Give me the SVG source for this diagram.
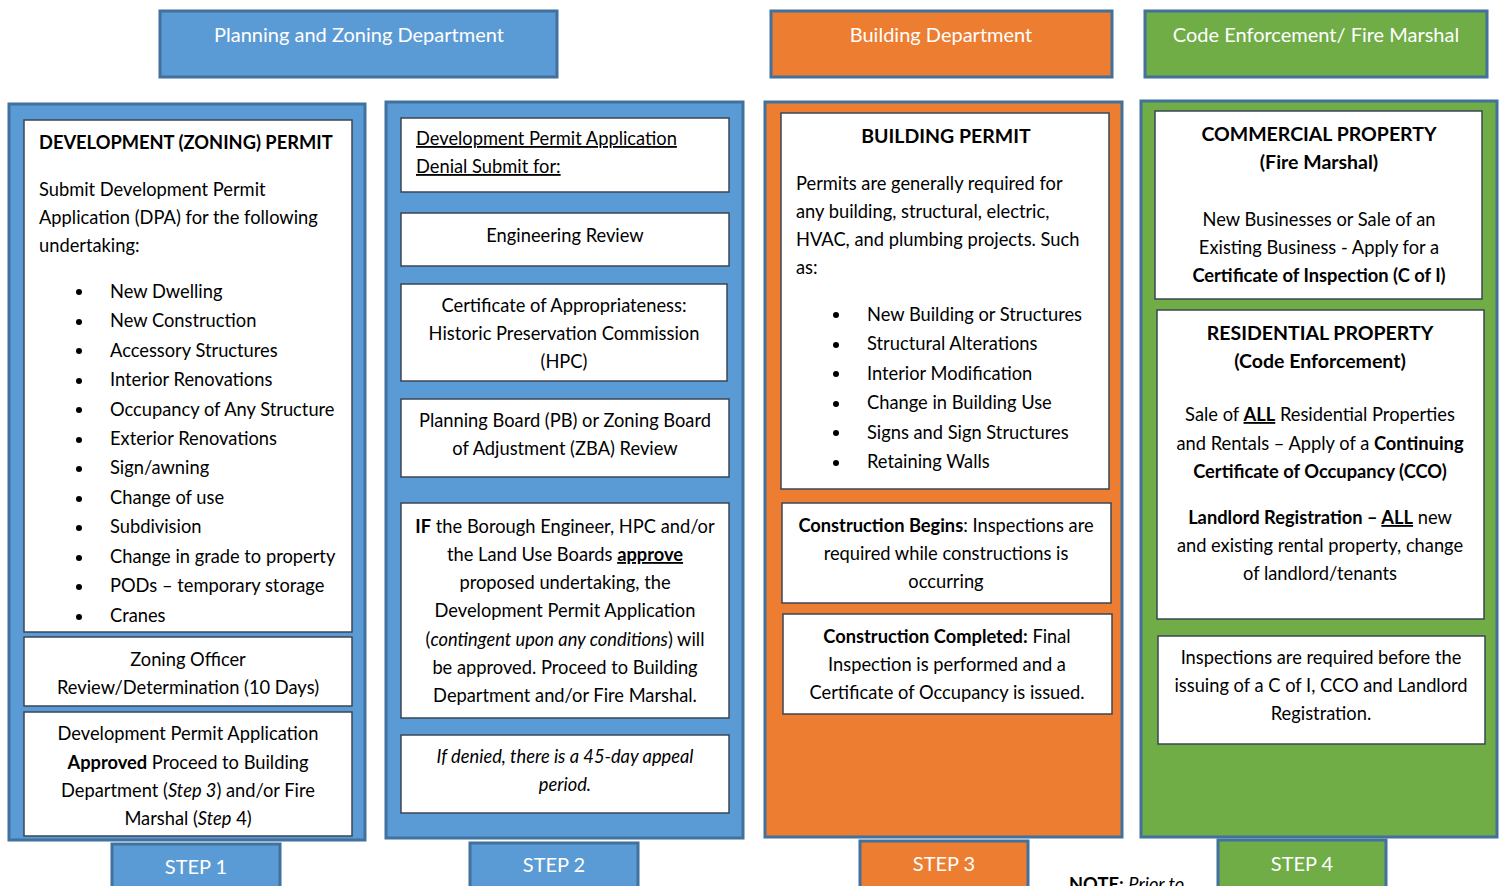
<svg xmlns="http://www.w3.org/2000/svg" width="1502" height="886" viewBox="0 0 1502 886">
<style>
text{font-family:Lato,"Open Sans","Liberation Sans",sans-serif;font-size:18.3px;fill:#000}
.c{text-anchor:middle}
.b{font-weight:bold}
.i{font-style:italic}
.u{text-decoration:underline}
.hd{fill:#fff;font-size:20px;text-anchor:middle}
.blue{fill:#5B9BD5;stroke:#41719C;stroke-width:3}
.orange{fill:#ED7D31;stroke:#41719C;stroke-width:3}
.green{fill:#70AD47;stroke:#41719C;stroke-width:3}
.box{fill:#fff;stroke:#3B4654;stroke-width:1.5}
.dot{fill:#000}
</style>
<rect width="1502" height="886" fill="#fff"/>

<g id="header-planning"><rect class="blue" x="160" y="11" width="397" height="66"/><text class="hd" x="359" y="42">Planning and Zoning Department</text></g>
<g id="header-building"><rect class="orange" x="771" y="11" width="341" height="66"/><text class="hd" x="941" y="42">Building Department</text></g>
<g id="header-code"><rect class="green" x="1145" y="11" width="342" height="66"/><text class="hd" x="1316" y="42">Code Enforcement/ Fire Marshal</text></g>

<g id="panel-1">
<rect class="blue" x="9" y="104" width="356" height="736"/>
<g id="p1-permit">
<rect class="box" x="24" y="120" width="328" height="512"/>
<text class="b" x="39" y="149">DEVELOPMENT (ZONING) PERMIT</text>
<text x="39" y="196">Submit Development Permit</text>
<text x="39" y="224">Application (DPA) for the following</text>
<text x="39" y="252">undertaking:</text>
<g class="dot"><circle cx="79" cy="292" r="3"/><circle cx="79" cy="322" r="3"/><circle cx="79" cy="351" r="3"/><circle cx="79" cy="381" r="3"/><circle cx="79" cy="410" r="3"/><circle cx="79" cy="440" r="3"/><circle cx="79" cy="469" r="3"/><circle cx="79" cy="499" r="3"/><circle cx="79" cy="528" r="3"/><circle cx="79" cy="558" r="3"/><circle cx="79" cy="587" r="3"/><circle cx="79" cy="617" r="3"/></g>
<text x="110" y="298">New Dwelling</text>
<text x="110" y="327">New Construction</text>
<text x="110" y="357">Accessory Structures</text>
<text x="110" y="386">Interior Renovations</text>
<text x="110" y="416">Occupancy of Any Structure</text>
<text x="110" y="445">Exterior Renovations</text>
<text x="110" y="474">Sign/awning</text>
<text x="110" y="504">Change of use</text>
<text x="110" y="533">Subdivision</text>
<text x="110" y="563">Change in grade to property</text>
<text x="110" y="592">PODs – temporary storage</text>
<text x="110" y="622">Cranes</text>
</g>
<g id="p1-review"><rect class="box" x="24" y="637" width="328" height="69"/>
<text class="c" x="188" y="666">Zoning Officer</text>
<text class="c" x="188" y="694">Review/Determination (10 Days)</text></g>
<g id="p1-approved"><rect class="box" x="24" y="712" width="328" height="124"/>
<text class="c" x="188" y="740">Development Permit Application</text>
<text class="c" x="188" y="769"><tspan class="b">Approved</tspan> Proceed to Building</text>
<text class="c" x="188" y="797">Department (<tspan class="i">Step 3</tspan>) and/or Fire</text>
<text class="c" x="188" y="825">Marshal (<tspan class="i">Step</tspan> 4)</text></g>
</g>

<g id="panel-2">
<rect class="blue" x="386" y="102" width="357" height="736"/>
<g id="p2-denial"><rect class="box" x="401" y="118" width="328" height="74"/>
<text class="u" x="416" y="145">Development Permit Application</text>
<text class="u" x="416" y="173">Denial Submit for:</text></g>
<g id="p2-eng"><rect class="box" x="401" y="213" width="328" height="53"/>
<text class="c" x="565" y="242">Engineering Review</text></g>
<g id="p2-hpc"><rect class="box" x="401" y="284" width="326" height="97"/>
<text class="c" x="564" y="312">Certificate of Appropriateness:</text>
<text class="c" x="564" y="340">Historic Preservation Commission</text>
<text class="c" x="564" y="368">(HPC)</text></g>
<g id="p2-board"><rect class="box" x="401" y="399" width="328" height="78"/>
<text class="c" x="565" y="427">Planning Board (PB) or Zoning Board</text>
<text class="c" x="565" y="455">of Adjustment (ZBA) Review</text></g>
<g id="p2-if"><rect class="box" x="401" y="503" width="328" height="215"/>
<text class="c" x="565" y="533"><tspan class="b">IF</tspan> the Borough Engineer, HPC and/or</text>
<text class="c" x="565" y="561">the Land Use Boards <tspan class="b u">approve</tspan></text>
<text class="c" x="565" y="589">proposed undertaking, the</text>
<text class="c" x="565" y="617">Development Permit Application</text>
<text class="c" x="565" y="646">(<tspan class="i">contingent upon any conditions</tspan>) will</text>
<text class="c" x="565" y="674">be approved. Proceed to Building</text>
<text class="c" x="565" y="702">Department and/or Fire Marshal.</text></g>
<g id="p2-denied"><rect class="box" x="401" y="735" width="328" height="78"/>
<text class="c i" x="565" y="763">If denied, there is a 45-day appeal</text>
<text class="c i" x="565" y="791">period.</text></g>
</g>

<g id="panel-3">
<rect class="orange" x="765" y="102" width="357" height="735"/>
<g id="p3-permit"><rect class="box" x="781" y="113" width="328" height="376"/>
<text class="c b" x="946" y="143" style="font-size:19.5px">BUILDING PERMIT</text>
<text x="796" y="190">Permits are generally required for</text>
<text x="796" y="218">any building, structural, electric,</text>
<text x="796" y="246">HVAC, and plumbing projects. Such</text>
<text x="796" y="274">as:</text>
<g class="dot"><circle cx="836" cy="315" r="3"/><circle cx="836" cy="345" r="3"/><circle cx="836" cy="374" r="3"/><circle cx="836" cy="404" r="3"/><circle cx="836" cy="433" r="3"/><circle cx="836" cy="463" r="3"/></g>
<text x="867" y="321">New Building or Structures</text>
<text x="867" y="350">Structural Alterations</text>
<text x="867" y="380">Interior Modification</text>
<text x="867" y="409">Change in Building Use</text>
<text x="867" y="439">Signs and Sign Structures</text>
<text x="867" y="468">Retaining Walls</text></g>
<g id="p3-begins"><rect class="box" x="782" y="503" width="329" height="100"/>
<text class="c" x="946" y="532"><tspan class="b">Construction Begins</tspan>: Inspections are</text>
<text class="c" x="946" y="560">required while constructions is</text>
<text class="c" x="946" y="588">occurring</text></g>
<g id="p3-completed"><rect class="box" x="783" y="614" width="329" height="100"/>
<text class="c" x="947" y="643"><tspan class="b">Construction Completed:</tspan> Final</text>
<text class="c" x="947" y="671">Inspection is performed and a</text>
<text class="c" x="947" y="699">Certificate of Occupancy is issued.</text></g>
</g>

<g id="panel-4">
<rect class="green" x="1141" y="101" width="356" height="736"/>
<g id="p4-commercial"><rect class="box" x="1155" y="111" width="327" height="188"/>
<text class="c b" x="1319" y="141" style="font-size:19.5px">COMMERCIAL PROPERTY</text>
<text class="c b" x="1319" y="169" style="font-size:19.5px">(Fire Marshal)</text>
<text class="c" x="1319" y="226">New Businesses or Sale of an</text>
<text class="c" x="1319" y="254">Existing Business - Apply for a</text>
<text class="c b" x="1319" y="282">Certificate of Inspection (C of I)</text></g>
<g id="p4-residential"><rect class="box" x="1157" y="310" width="327" height="309"/>
<text class="c b" x="1320" y="340" style="font-size:19.5px">RESIDENTIAL PROPERTY</text>
<text class="c b" x="1320" y="368" style="font-size:19.5px">(Code Enforcement)</text>
<text class="c" x="1320" y="421">Sale of <tspan class="b u">ALL</tspan> Residential Properties</text>
<text class="c" x="1320" y="450">and Rentals – Apply of a <tspan class="b">Continuing</tspan></text>
<text class="c b" x="1320" y="478">Certificate of Occupancy (CCO)</text>
<text class="c" x="1320" y="524"><tspan class="b">Landlord Registration – </tspan><tspan class="b u">ALL</tspan> new</text>
<text class="c" x="1320" y="552">and existing rental property, change</text>
<text class="c" x="1320" y="580">of landlord/tenants</text></g>
<g id="p4-inspections"><rect class="box" x="1158" y="636" width="327" height="108"/>
<text class="c" x="1321" y="664">Inspections are required before the</text>
<text class="c" x="1321" y="692">issuing of a C of I, CCO and Landlord</text>
<text class="c" x="1321" y="720">Registration.</text></g>
</g>

<g id="step-1"><rect class="blue" x="112" y="844" width="168" height="50"/><text class="hd" x="196" y="874">STEP 1</text></g>
<g id="step-2"><rect class="blue" x="470" y="843" width="168" height="50"/><text class="hd" x="554" y="872">STEP 2</text></g>
<g id="step-3"><rect class="orange" x="860" y="841" width="168" height="50"/><text class="hd" x="944" y="871">STEP 3</text></g>
<g id="step-4"><rect class="green" x="1218" y="840" width="168" height="50"/><text class="hd" x="1302" y="871">STEP 4</text></g>

<g id="note"><text x="1069" y="891"><tspan class="b">NOTE:</tspan> <tspan class="i">Prior to</tspan></text></g>
<g id="connectors"></g>
</svg>
